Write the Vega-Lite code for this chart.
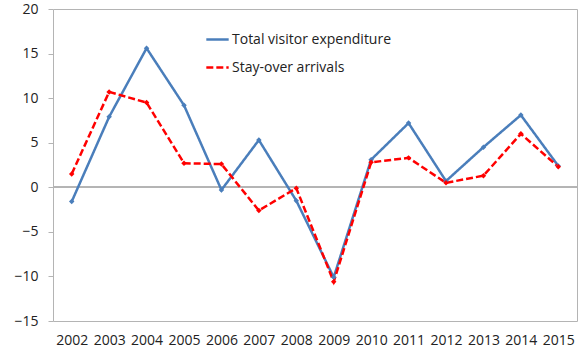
{
  "$schema": "https://vega.github.io/schema/vega-lite/v6.json",
  "width": 524,
  "height": 312,
  "autosize": {"type": "none"},
  "padding": {"left": 53, "top": 9, "right": 1, "bottom": 31},
  "config": {
    "font": "Open Sans",
    "view": {"stroke": "#b4b4b4", "strokeWidth": 1},
    "axis": {"labelFont": "Open Sans", "labelFontSize": 14, "labelColor": "#222222"}
  },
  "data": {
    "values": [
      {"year": "2002", "series": "Total visitor expenditure", "value": -1.6},
      {"year": "2003", "series": "Total visitor expenditure", "value": 7.9},
      {"year": "2004", "series": "Total visitor expenditure", "value": 15.6},
      {"year": "2005", "series": "Total visitor expenditure", "value": 9.2},
      {"year": "2006", "series": "Total visitor expenditure", "value": -0.3},
      {"year": "2007", "series": "Total visitor expenditure", "value": 5.3},
      {"year": "2008", "series": "Total visitor expenditure", "value": -1.5},
      {"year": "2009", "series": "Total visitor expenditure", "value": -10.1},
      {"year": "2010", "series": "Total visitor expenditure", "value": 3.1},
      {"year": "2011", "series": "Total visitor expenditure", "value": 7.2},
      {"year": "2012", "series": "Total visitor expenditure", "value": 0.7},
      {"year": "2013", "series": "Total visitor expenditure", "value": 4.5},
      {"year": "2014", "series": "Total visitor expenditure", "value": 8.1},
      {"year": "2015", "series": "Total visitor expenditure", "value": 2.4},
      {"year": "2002", "series": "Stay-over arrivals", "value": 1.5},
      {"year": "2003", "series": "Stay-over arrivals", "value": 10.7},
      {"year": "2004", "series": "Stay-over arrivals", "value": 9.5},
      {"year": "2005", "series": "Stay-over arrivals", "value": 2.7},
      {"year": "2006", "series": "Stay-over arrivals", "value": 2.6},
      {"year": "2007", "series": "Stay-over arrivals", "value": -2.6},
      {"year": "2008", "series": "Stay-over arrivals", "value": -0.1},
      {"year": "2009", "series": "Stay-over arrivals", "value": -10.6},
      {"year": "2010", "series": "Stay-over arrivals", "value": 2.8},
      {"year": "2011", "series": "Stay-over arrivals", "value": 3.3},
      {"year": "2012", "series": "Stay-over arrivals", "value": 0.5},
      {"year": "2013", "series": "Stay-over arrivals", "value": 1.3},
      {"year": "2014", "series": "Stay-over arrivals", "value": 6.0},
      {"year": "2015", "series": "Stay-over arrivals", "value": 2.3}
    ]
  },
  "layer": [
    {
      "mark": {"type": "rule", "color": "#b4b4b4", "strokeWidth": 1},
      "encoding": {"y": {"datum": 0, "type": "quantitative", "scale": {"domain": [-15, 20]}}}
    },
    {
      "mark": {"type": "line", "strokeWidth": 2.5, "point": {"shape": "diamond", "size": 30, "filled": true}},
      "encoding": {
        "x": {
          "field": "year", "type": "ordinal", "title": null,
          "scale": {"paddingInner": 0, "paddingOuter": 0.5},
          "axis": {"labelAngle": 0, "ticks": false, "domain": false, "labelPadding": 12}
        },
        "y": {
          "field": "value", "type": "quantitative", "title": null,
          "scale": {"domain": [-15, 20], "nice": false, "zero": false},
          "axis": {"values": [-15, -10, -5, 0, 5, 10, 15, 20], "grid": false, "domain": false, "tickColor": "#b4b4b4", "tickSize": 5, "labelPadding": 10}
        },
        "color": {
          "field": "series", "type": "nominal",
          "scale": {"domain": ["Total visitor expenditure", "Stay-over arrivals"], "range": ["#4a7ebb", "#ff0000"]},
          "legend": {
            "title": null, "orient": "none", "legendX": 152, "legendY": 18,
            "symbolType": "stroke", "symbolSize": 500, "symbolStrokeWidth": 2.5,
            "labelFontSize": 14, "labelFont": "Open Sans", "labelColor": "#222222", "rowPadding": 8, "labelOffset": 2
          }
        },
        "strokeDash": {
          "field": "series", "type": "nominal",
          "scale": {"domain": ["Total visitor expenditure", "Stay-over arrivals"], "range": [[1, 0], [7, 3]]},
          "legend": {
            "title": null, "orient": "none", "legendX": 152, "legendY": 18,
            "symbolType": "stroke", "symbolSize": 500, "symbolStrokeWidth": 2.5,
            "labelFontSize": 14, "labelFont": "Open Sans", "labelColor": "#222222", "rowPadding": 8, "labelOffset": 2
          }
        }
      }
    }
  ]
}
